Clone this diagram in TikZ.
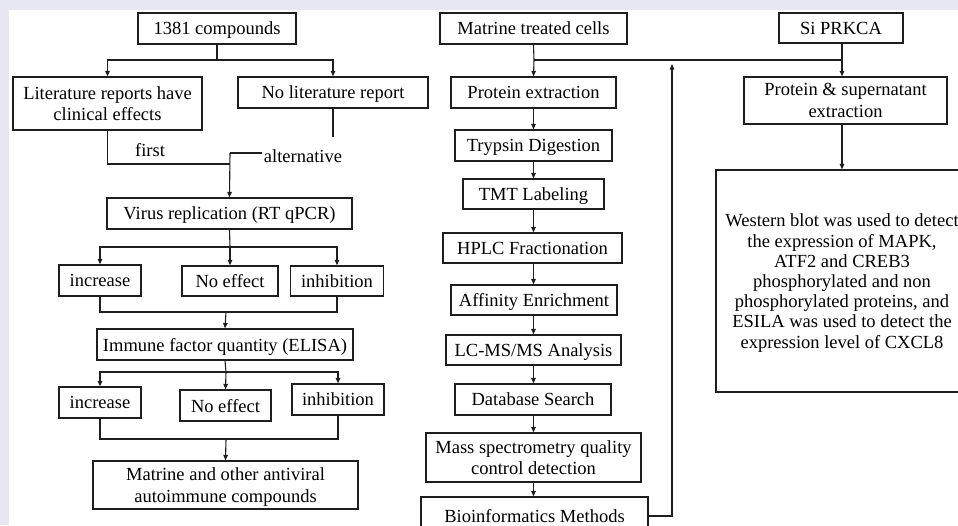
\documentclass[tikz,border=0pt]{standalone}
\usepackage{fontspec}
\setmainfont{Liberation Serif}
\usetikzlibrary{arrows.meta}
\definecolor{bgl}{RGB}{231,231,243}
\definecolor{ink}{RGB}{30,30,30}
\begin{document}
\begin{tikzpicture}[x=1pt,y=-1pt,
  box/.style={draw=ink, line width=1.2pt, inner sep=0pt, align=center, text=black,
    text depth=0pt, font=\fontsize{18.5}{21.5}\selectfont},
  sz/.style 2 args={minimum width=#1pt, minimum height=#2pt},
  lbl/.style={inner sep=2pt, text=black, font=\fontsize{18.5}{21.5}\selectfont},
  ln/.style={draw=ink, line width=1.1pt},
  arr/.style={ln, -{Triangle[length=5.5pt,width=4.5pt]}}]
\useasboundingbox (0,0) rectangle (958,525);
\fill[bgl] (0,0) rectangle (958,525);
\fill[white] (9,10) rectangle (958,525);
\clip (0,0) rectangle (958,525);

% ---------------- left column ----------------
\node[box, sz={158}{31}] (c1381) at (217,28.5) {1381 compounds};
\node[box, sz={189}{53}] (lit) at (107.5,103.5) {Literature reports have\\clinical effects};
\node[box, sz={190}{31}] (nolit) at (333,92.5) {No literature report};
\node[lbl] (first) at (150,150) {first};
\node[lbl] (alt) at (303,156) {alternative};
\node[box, sz={245}{31}] (virus) at (229.5,213.5) {Virus replication (RT qPCR)};
\node[box, sz={82}{31}] (inc1) at (100,280.5) {increase};
\node[box, sz={96}{30}] (noeff1) at (230,281) {No effect};
\node[box, sz={93}{30}] (inh1) at (337,281) {inhibition};
\node[box, sz={256}{31}] (immune) at (225,344.5) {Immune factor quantity (ELISA)};
\node[box, sz={82}{31}] (inc2) at (100,402.5) {increase};
\node[box, sz={91}{31}] (noeff2) at (225.5,405.5) {No effect};
\node[box, sz={92}{31}] (inh2) at (338,399.5) {inhibition};
\node[box, sz={265}{48}] (matr) at (225.5,485) {Matrine and other antiviral\\autoimmune compounds};

\coordinate (j1) at (217,60);
\coordinate (j2) at (230,164);
\coordinate (nle) at (333,137);
\coordinate (j3) at (230,153);
\coordinate (j4) at (230,247);
\coordinate (j5) at (226,312);
\coordinate (j6) at (226,372);
\coordinate (j7) at (226,439);

\draw[ln] (c1381.south) -- (j1);
\draw[arr] (j1) -| (lit.north);
\draw[arr] (j1) -| (nolit.north);
\draw[ln] (lit.south) |- (j2);
\draw[ln] (nolit.south) -- (nolit.south |- nle);
\draw[ln] (alt.west |- j3) -- (j3);
\draw[arr] (j3) -- (virus.north);
\draw[ln] (virus.south) -- (j4);
\draw[arr] (j4) -| (inc1.north);
\draw[arr] (j4) -- (noeff1.north);
\draw[arr] (j4) -| (inh1.north);
\draw[ln] (inc1.south) |- (j5) -| (inh1.south);
\draw[arr] (j5) -- (immune.north);
\draw[ln] (immune.south) -- (j6);
\draw[arr] (j6) -| (inc2.north);
\draw[arr] (j6) -- (noeff2.north);
\draw[arr] (j6) -| (inh2.north);
\draw[ln] (inc2.south) |- (j7) -| (inh2.south);
\draw[arr] (j7) -- (matr.north);

% ---------------- middle column ----------------
\node[box, sz={187}{31}] (mtc) at (533.5,28.5) {Matrine treated cells};
\node[box, sz={165}{31}] (pe) at (533.5,92.5) {Protein extraction};
\node[box, sz={157}{31}] (tryp) at (533.5,145.5) {Trypsin Digestion};
\node[box, sz={141}{30}] (tmt) at (533.5,194) {TMT Labeling};
\node[box, sz={179}{30}] (hplc) at (532.5,248) {HPLC Fractionation};
\node[box, sz={166}{30}] (aff) at (534,300) {Affinity Enrichment};
\node[box, sz={175}{30}] (lcms) at (533.5,350) {LC-MS/MS Analysis};
\node[box, sz={156}{31}] (db) at (533,399.5) {Database Search};
\node[box, sz={215}{49}] (mass) at (533.5,457.5) {Mass spectrometry quality\\control detection};
\node[box, sz={227}{38}] (bio) at (534.5,516) {Bioinformatics Methods};

\coordinate (j8) at (534,60);
\coordinate (j9) at (842,60);
\coordinate (fb) at (672,64);

\draw[ln] (mtc.south) -- (j8);
\draw[arr] (j8) -- (pe.north);
\draw[ln] (j8) -- (j9);
\draw[arr] (pe.south) -- (tryp.north);
\draw[arr] (tryp.south) -- (tmt.north);
\draw[arr] (tmt.south) -- (hplc.north -| tmt.south);
\draw[arr] (hplc.south -| tmt.south) -- (aff.north -| tmt.south);
\draw[arr] (aff.south -| tmt.south) -- (lcms.north -| tmt.south);
\draw[arr] (lcms.south -| tmt.south) -- (db.north -| tmt.south);
\draw[arr] (db.south -| tmt.south) -- (mass.north -| tmt.south);
\draw[arr] (mass.south -| tmt.south) -- (bio.north -| tmt.south);
\draw[arr] (bio.east) -| (fb);

% ---------------- right column ----------------
\node[box, sz={124}{30}] (si) at (841,28) {Si PRKCA};
\node[box, sz={203}{47}] (pse) at (845.5,100.5) {Protein \& supernatant\\extraction};
\node[box, sz={252}{222}, font=\fontsize{18.5}{20.2}\selectfont] (wb) at (842,281)
  {Western blot was used to detect\\the expression of MAPK,\\ATF2 and CREB3\\phosphorylated and non\\phosphorylated proteins, and\\ESILA was used to detect the\\expression level of CXCL8};

\draw[ln] (si.south -| j9) -- (j9);
\draw[arr] (j9) -- (pse.north -| j9);
\draw[arr] (pse.south -| j9) -- (wb.north -| j9);
\end{tikzpicture}
\end{document}
